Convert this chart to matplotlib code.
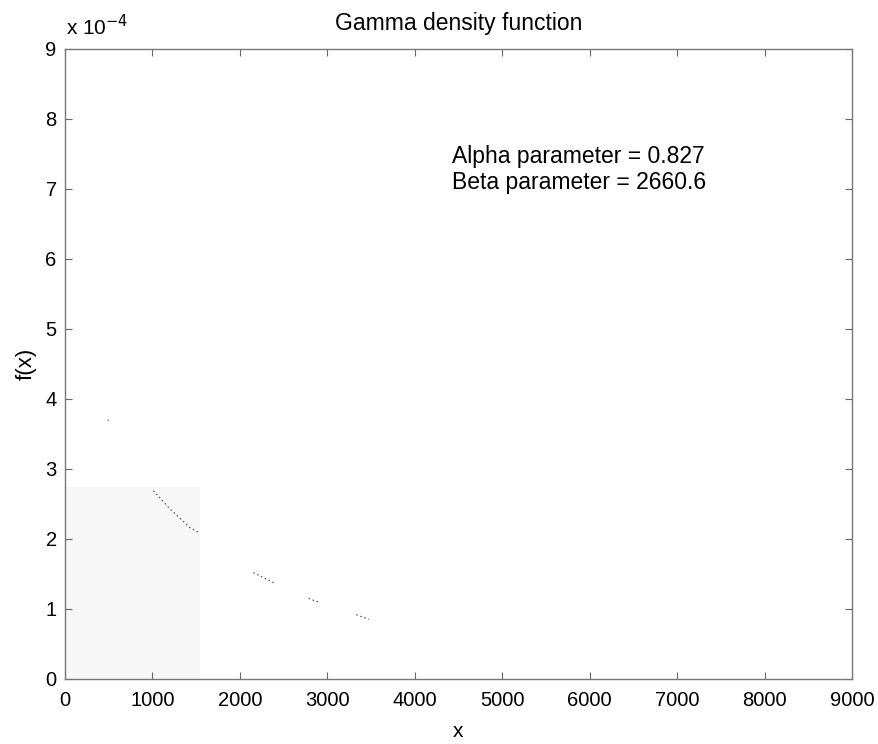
import matplotlib
matplotlib.use("Agg")
import matplotlib.pyplot as plt
from matplotlib.ticker import FuncFormatter
from matplotlib.patches import Rectangle

plt.rcParams['font.family'] = ['Liberation Sans', 'DejaVu Sans']

# Fitted gamma parameters
alpha = 0.827
beta = 2660.6

# Surviving fragments of the printed density curve (x, f(x))
frag1_x = [492, 500]
frag1_y = [3.70e-4, 3.69e-4]
frag2_x = [1011, 1200, 1431, 1546]
frag2_y = [2.69e-4, 2.43e-4, 2.16e-4, 2.08e-4]
frag3_x = [2153, 2300, 2412]
frag3_y = [1.52e-4, 1.43e-4, 1.36e-4]
frag4_x = [2786, 2850, 2901]
frag4_y = [1.154e-4, 1.12e-4, 1.10e-4]
frag5_x = [3332, 3400, 3477]
frag5_y = [0.92e-4, 0.885e-4, 0.854e-4]

x_ticks = [0, 1000, 2000, 3000, 4000, 5000, 6000, 7000, 8000, 9000]
y_ticks = [i * 1e-4 for i in range(10)]

W, H = 879, 744
fig = plt.figure(figsize=(W / 100, H / 100), dpi=100)
ax = fig.add_axes([65 / W, 1 - 679 / H, (852 - 65) / W, (679 - 49) / H])

# faint shaded patch in the lower-left corner
ax.add_patch(Rectangle((0, 0), 0.172, 0.305, transform=ax.transAxes,
                       facecolor='#f7f7f7', edgecolor='none', zorder=0))

for fx, fy in [(frag1_x, frag1_y), (frag2_x, frag2_y), (frag3_x, frag3_y),
               (frag4_x, frag4_y), (frag5_x, frag5_y)]:
    ax.plot(fx, fy, color='#555555', lw=0.9, ls=(0, (1.2, 2.2)))

ax.set_xlim(0, 9000)
ax.set_ylim(0, 9e-4)
ax.set_xticks(x_ticks)
ax.set_yticks(y_ticks)
ax.yaxis.set_major_formatter(FuncFormatter(lambda v, p: f"{v * 1e4:.0f}"))
ax.tick_params(direction='in', length=5, width=0.8, color='#666666',
               labelsize=14.5, top=True, right=True, pad=6)
ax.tick_params(axis='x', pad=9)
for s in ax.spines.values():
    s.set_color('#777777')
    s.set_linewidth(1.0)

ax.set_title('Gamma density function', fontsize=16.5, pad=14)
ax.set_xlabel('x', fontsize=15, labelpad=8)
ax.set_ylabel('f(x)', fontsize=16, labelpad=6)
fig.text(66 / W, 1 - 35 / H, r'x 10$^{-4}$', fontsize=15, ha='left', va='baseline')

ax.text(4420, 7.28e-4, f'Alpha parameter = {alpha}\nBeta parameter = {beta}',
        fontsize=16.5, ha='left', va='center', linespacing=1.2)

fig.savefig('out.png', dpi=100, facecolor='white')
